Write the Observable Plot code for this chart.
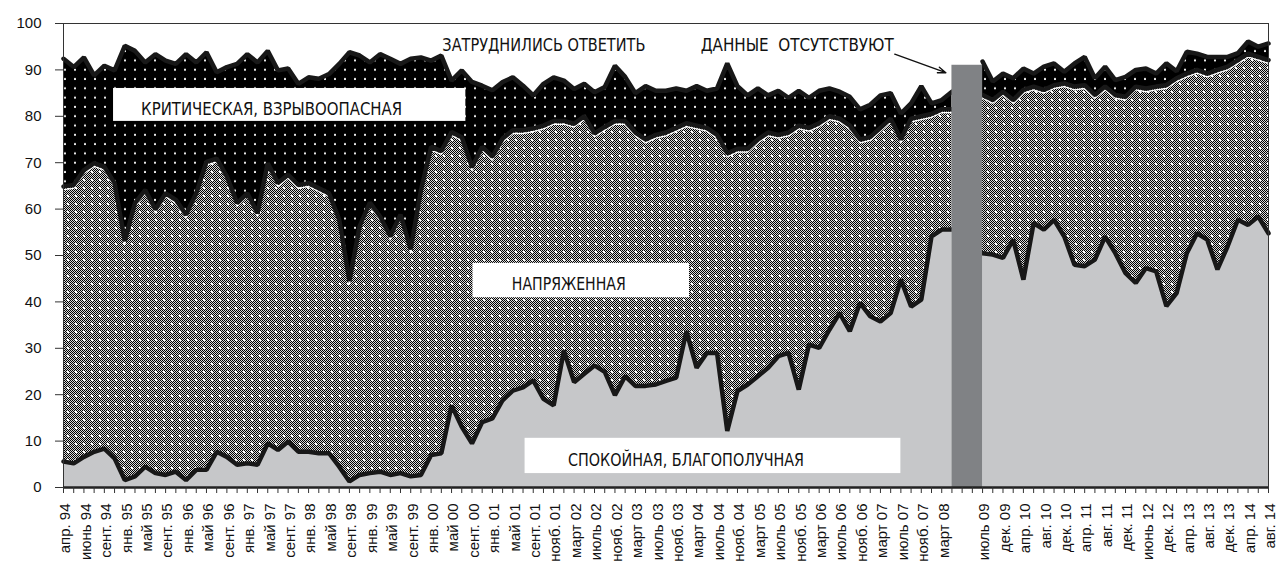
<!DOCTYPE html>
<html>
<head>
<meta charset="utf-8">
<script src="https://cdn.jsdelivr.net/npm/d3@7"></script>
<script src="https://cdn.jsdelivr.net/npm/@observablehq/plot@0.6"></script>
<style>
  html, body { margin: 0; padding: 0; background: #fff; overflow: hidden; }
  #chart svg { display: block; }
</style>
</head>
<body>
<div id="chart"></div>
<script>
// ---- data (percent), one value per survey slot; null = no data ----
const calm = [
  5.6, 5.2, 6.6, 7.7, 8.4, 6.3, 1.6, 2.4, 4.5, 3.1,
  2.7, 3.4, 1.6, 3.8, 3.8, 7.7, 6.6, 4.9, 5.2, 4.9,
  9.5, 8.1, 9.9, 7.7, 7.7, 7.4, 7.4, 4.5, 1.3, 2.7,
  3.1, 3.4, 2.7, 3.1, 2.4, 2.7, 7.0, 7.4, 17.7, 13.1,
  9.5, 14.1, 14.9, 18.8, 20.9, 21.6, 23.1, 19.1, 17.7, 29.5,
  22.7, 24.5, 26.3, 24.9, 19.9, 24.0, 21.9, 21.9, 22.2, 23.0,
  23.7, 33.7, 25.8, 29.0, 29.0, 12.2, 20.8, 22.2, 24.0, 25.8,
  28.3, 29.0, 21.1, 30.8, 30.1, 34.0, 37.6, 33.7, 39.8, 36.9,
  35.8, 37.6, 44.8, 39.0, 40.5, 54.1, 55.6, 55.6, null, null,
  50.5, 50.2, 49.5, 53.4, 44.8, 57.0, 55.6, 57.7, 54.1, 48.0,
  47.7, 49.1, 54.1, 50.5, 46.2, 44.1, 47.3, 46.6, 39.1, 41.9,
  50.5, 54.8, 53.4, 47.0, 52.0, 57.7, 56.6, 58.4, 54.8
];
const tense = [
  59.3, 60.0, 61.8, 62.2, 60.7, 59.3, 51.5, 58.9, 59.6, 56.8,
  60.7, 58.6, 57.2, 59.6, 66.4, 63.2, 60.4, 56.4, 58.2, 54.2,
  60.4, 57.5, 57.5, 57.5, 57.9, 57.1, 56.0, 53.2, 43.2, 53.6,
  58.3, 55.0, 51.4, 55.7, 48.9, 61.3, 66.4, 65.1, 58.9, 62.4,
  59.5, 59.3, 56.4, 56.4, 56.1, 55.4, 54.3, 58.9, 61.3, 49.5,
  55.7, 55.5, 50.0, 52.8, 59.1, 55.0, 54.6, 53.1, 53.8, 53.5,
  53.8, 44.8, 52.2, 48.5, 47.0, 59.8, 52.2, 50.8, 51.0, 50.7,
  47.7, 47.5, 56.9, 46.7, 48.4, 46.0, 41.9, 44.3, 35.2, 38.6,
  41.7, 41.9, 30.2, 40.5, 39.5, 26.4, 25.9, 25.9, null, null,
  34.1, 33.3, 35.8, 30.1, 40.9, 29.4, 30.1, 29.0, 33.0, 38.4,
  39.0, 35.5, 32.3, 34.1, 38.0, 42.3, 38.7, 39.8, 47.6, 46.3,
  38.7, 35.2, 35.8, 43.0, 38.7, 34.4, 36.9, 34.4, 37.3
];
const critical = [
  27.5, 25.4, 24.3, 18.9, 21.8, 24.3, 42.1, 32.8, 27.5, 33.5,
  28.6, 29.3, 34.6, 28.2, 23.6, 18.6, 23.6, 30.0, 30.0, 32.5,
  24.2, 24.3, 22.9, 21.8, 22.8, 23.6, 25.7, 33.6, 49.3, 36.8,
  30.2, 35.0, 38.3, 32.5, 41.1, 28.7, 18.6, 20.6, 11.1, 14.4,
  18.4, 13.2, 14.3, 12.2, 11.4, 9.6, 7.1, 9.0, 9.4, 8.7,
  7.5, 7.0, 8.9, 8.6, 11.9, 9.5, 8.5, 11.5, 9.5, 9.0,
  8.5, 7.0, 8.5, 8.0, 10.0, 19.4, 13.5, 11.5, 11.0, 8.0,
  9.5, 7.5, 7.5, 6.5, 7.0, 6.0, 5.8, 6.2, 6.5, 7.0,
  7.0, 5.5, 5.6, 3.3, 6.5, 2.3, 2.0, 3.8, null, null,
  7.2, 4.0, 3.9, 4.7, 4.6, 2.8, 5.0, 4.7, 2.5, 5.0,
  6.1, 3.6, 4.3, 3.2, 4.3, 3.6, 4.3, 2.8, 4.7, 1.5,
  4.7, 3.5, 3.6, 2.8, 2.1, 1.5, 2.6, 2.2, 3.6
];
// tick labels, shown on every second survey slot
const labelsBefore = ["апр. 94","июнь 94","сент. 94","янв. 95","май 95","сент. 95","янв. 96","май 96","сент. 96","янв. 97","май 97","сент. 97","янв. 98","май 98","сент. 98","янв. 99","май 99","сент. 99","янв. 00","май 00","сент. 00","янв. 01","май 01","сент. 01","нояб. 01","март 02","июль 02","нояб. 02","март 03","июль 03","нояб. 03","март 04","июль 04","нояб. 04","март 05","июль 05","нояб. 05","март 06","июль 06","нояб. 06","март 07","июль 07","нояб. 07","март 08"];
const labelsAfter = ["июль 09","дек. 09","апр. 10","авг. 10","дек. 10","апр. 11","авг. 11","дек. 11","июнь 12","дек. 12","апр. 13","авг. 13","дек. 13","апр. 14","авг. 14"];
const gapSlots = [88, 89];
const gapBarTop = 91;

// ---- derived table ----
const n = calm.length;
const slots = d3.range(n);
const rows = slots.map(i => {
  if (calm[i] == null) return {i, c: null, t: null, a: null};
  const c = calm[i], t = c + tense[i], a = t + critical[i];
  return {i, c, t, a};
});
const tickMap = new Map();
labelsBefore.forEach((l, k) => tickMap.set(2 * k, l));
labelsAfter.forEach((l, k) => tickMap.set(gapSlots[1] + 1 + 2 * k, l));
const tickIdx = [...tickMap.keys()];

// ---- annotation layout (x in slot units, y in percent) ----
const boxes = [
  {x1: 4.9, x2: 39.4, y1: 78.9, y2: 86.0},
  {x1: 40.1, x2: 61.3, y1: 40.9, y2: 48.3},
  {x1: 45.2, x2: 82.0, y1: 3.0, y2: 10.6}
];
const notes = [
  {text: "КРИТИЧЕСКАЯ, ВЗРЫВООПАСНАЯ", x: 7.6, y: 81.6, w: 261},
  {text: "НАПРЯЖЕННАЯ", x: 43.9, y: 43.8, w: 114},
  {text: "СПОКОЙНАЯ, БЛАГОПОЛУЧНАЯ", x: 49.4, y: 5.9, w: 236},
  {text: "ЗАТРУДНИЛИСЬ ОТВЕТИТЬ", x: 37.1, y: 95.3, w: 203},
  {text: "ДАННЫЕ  ОТСУТСТВУЮТ", x: 62.4, y: 95.3, w: 193}
];
const arrowSpec = [{x1: 81.4, y1: 93.4, x2: 86.4, y2: 89.4}];
const gapBar = [{x1: gapSlots[0] - 1, x2: gapSlots[1] + 1, y1: 0, y2: gapBarTop}];

const narrow = '"Liberation Sans Narrow", "Arial Narrow", "DejaVu Sans Condensed", "Liberation Sans", Arial, sans-serif';
const lineColor = "#181818";

const chart = Plot.plot({
  width: 1278,
  height: 568,
  marginLeft: 63,
  marginRight: 10,
  marginTop: 23,
  marginBottom: 81,
  style: {fontFamily: '"Liberation Sans", Arial, sans-serif', background: "#fff", color: "#111"},
  x: {domain: [0, n - 1], axis: null},
  y: {domain: [0, 100], axis: null},
  marks: [
    Plot.areaY(rows, {x: "i", y1: "t", y2: "a", fill: "url(#pCrit)", curve: "linear"}),
    Plot.areaY(rows, {x: "i", y1: "c", y2: "t", fill: "url(#pTense)", curve: "linear"}),
    Plot.areaY(rows, {x: "i", y1: 0, y2: "c", fill: "#c6c7c9", curve: "linear"}),
    Plot.lineY(rows, {x: "i", y: "t", stroke: "#fff", strokeWidth: 1.3, dy: 3.3}),
    Plot.lineY(rows, {x: "i", y: "c", stroke: lineColor, strokeWidth: 4.5, strokeLinejoin: "miter"}),
    Plot.lineY(rows, {x: "i", y: "t", stroke: lineColor, strokeWidth: 4.5, strokeLinejoin: "miter"}),
    Plot.lineY(rows, {x: "i", y: "a", stroke: lineColor, strokeWidth: 4.5, strokeLinejoin: "miter"}),
    Plot.rect(gapBar, {x1: "x1", x2: "x2", y1: "y1", y2: "y2", fill: "#808285"}),
    Plot.rect(boxes, {x1: "x1", x2: "x2", y1: "y1", y2: "y2", fill: "#fff"}),
    Plot.text(notes, {x: "x", y: "y", text: "text", textAnchor: "start", fontSize: 18, fontFamily: narrow, fill: "#111"}),
    Plot.arrow(arrowSpec, {x1: "x1", y1: "y1", x2: "x2", y2: "y2", stroke: "#111", strokeWidth: 1.4, headLength: 9, headAngle: 40}),
    Plot.frame({stroke: "#333", strokeWidth: 1}),
    Plot.ruleY([0], {stroke: "#222", strokeWidth: 2.5}),
    Plot.axisY({ticks: d3.range(0, 101, 10), tickSize: 8, tickPadding: 14, fontSize: 15, label: null, stroke: "#333"}),
    Plot.axisX({ticks: slots, tickSize: 6, tickFormat: () => "", label: null, stroke: "#333"}),
    Plot.axisX({ticks: tickIdx, tickSize: 0, tickPadding: 16, tickRotate: -90, tickFormat: i => tickMap.get(i), fontSize: 15, label: null, dx: 2})
  ]
});

// pattern definitions for the hatched series
const svg = d3.select(chart.tagName.toLowerCase() === "svg" ? chart : chart.querySelector("svg"));
const defs = svg.insert("defs", ":first-child");
const chk = defs.append("pattern").attr("id", "pChk").attr("width", 2).attr("height", 2).attr("patternUnits", "userSpaceOnUse");
chk.append("rect").attr("width", 2).attr("height", 2).attr("fill", "#d8d8d8");
chk.append("rect").attr("width", 1).attr("height", 1).attr("fill", "#000");
chk.append("rect").attr("x", 1).attr("y", 1).attr("width", 1).attr("height", 1).attr("fill", "#000");
const tp = defs.append("pattern").attr("id", "pTense").attr("width", 8).attr("height", 8).attr("patternUnits", "userSpaceOnUse");
tp.append("rect").attr("width", 8).attr("height", 8).attr("fill", "url(#pChk)");
tp.append("rect").attr("x", 3).attr("y", 3).attr("width", 2).attr("height", 2).attr("fill", "#fff");
const cp = defs.append("pattern").attr("id", "pCrit").attr("width", 10).attr("height", 9.3).attr("patternUnits", "userSpaceOnUse");
cp.append("rect").attr("width", 10).attr("height", 9.3).attr("fill", "#000");
cp.append("rect").attr("x", 4).attr("y", 3.6).attr("width", 2).attr("height", 2).attr("fill", "#e6e6e6");

// fit annotation texts to their measured widths
const widthOf = new Map(notes.map(d => [d.text, d.w]));
svg.selectAll("text").each(function() {
  const t = this.textContent;
  if (widthOf.has(t)) {
    d3.select(this).attr("textLength", widthOf.get(t)).attr("lengthAdjust", "spacingAndGlyphs").style("white-space", "pre");
  }
});

document.getElementById("chart").appendChild(chart);
</script>
</body>
</html>
